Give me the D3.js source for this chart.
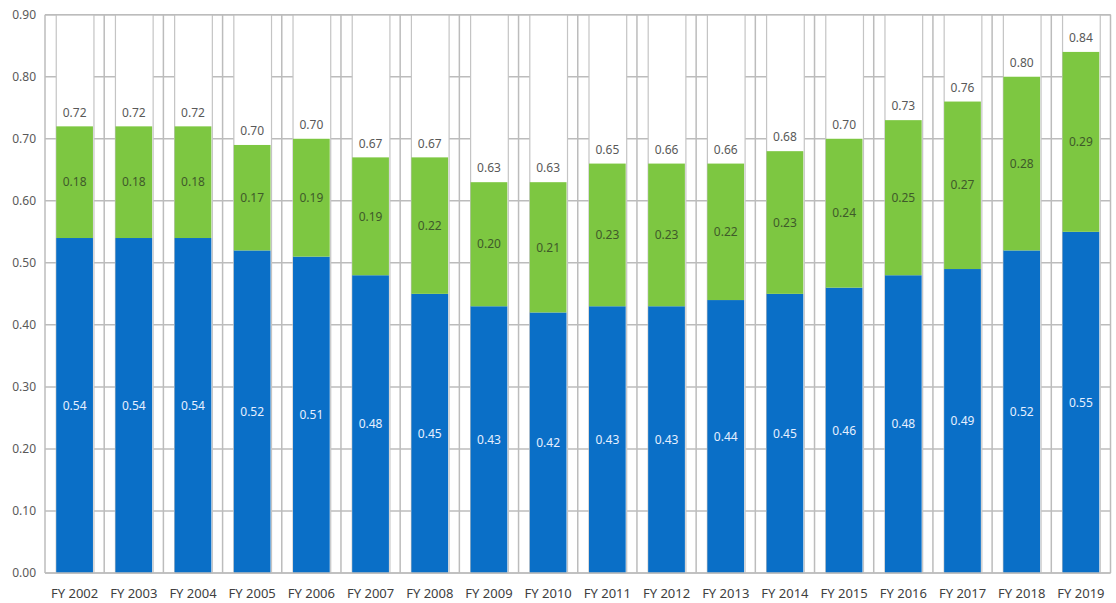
<!DOCTYPE html>
<html>
<head>
<meta charset="utf-8">
<script src="https://cdn.jsdelivr.net/npm/d3@7/dist/d3.min.js"></script>
<style>
  html, body { margin: 0; padding: 0; background: #fff; }
  svg { display: block; font-family: "Noto Sans", "Open Sans", sans-serif; }
</style>
</head>
<body>
<svg id="chart" width="1116" height="603"></svg>
<script>
// Fiscal years on the category axis
const years = ["FY 2002","FY 2003","FY 2004","FY 2005","FY 2006","FY 2007","FY 2008","FY 2009","FY 2010",
               "FY 2011","FY 2012","FY 2013","FY 2014","FY 2015","FY 2016","FY 2017","FY 2018","FY 2019"];
// Lower (blue) segment
const baseValues = [0.54,0.54,0.54,0.52,0.51,0.48,0.45,0.43,0.42,0.43,0.43,0.44,0.45,0.46,0.48,0.49,0.52,0.55];
// Upper (green) segment
const addValues  = [0.18,0.18,0.18,0.17,0.19,0.19,0.22,0.20,0.21,0.23,0.23,0.22,0.23,0.24,0.25,0.27,0.28,0.29];
// Totals printed above each stack
const totals     = [0.72,0.72,0.72,0.70,0.70,0.67,0.67,0.63,0.63,0.65,0.66,0.66,0.68,0.70,0.73,0.76,0.80,0.84];
// Value axis ticks
const yTicks = [0,0.1,0.2,0.3,0.4,0.5,0.6,0.7,0.8,0.9];

const rows = years.map((y, i) => ({ year: y, base: baseValues[i], add: addValues[i], total: totals[i] }));

const svg = d3.select("#chart");
const plotLeft = 45, plotRight = 1110.5, plotTop = 14.7, plotBottom = 573;
const fmt = d3.format(".2f");
const gridColor = "#bcbcbc";

const x = d3.scaleBand().domain(years).range([plotLeft, plotRight]).paddingInner(0.38).paddingOuter(0.19);
const y = d3.scaleLinear().domain([0, 0.9]).range([plotBottom, plotTop]);

// horizontal gridlines
svg.append("g").selectAll("line").data(yTicks).join("line")
  .attr("x1", plotLeft).attr("x2", plotRight)
  .attr("y1", d => y(d)).attr("y2", d => y(d))
  .attr("stroke", gridColor).attr("stroke-width", 1.5);

// vertical gridlines at category boundaries
const step = x.step();
const bounds = d3.range(years.length + 1).map(i => plotLeft + i * step);
svg.append("g").selectAll("line").data(bounds).join("line")
  .attr("x1", d => d).attr("x2", d => d)
  .attr("y1", plotTop).attr("y2", plotBottom)
  .attr("stroke", gridColor).attr("stroke-width", 1.5);

// full-height white columns behind each stack
svg.append("g").selectAll("rect").data(rows).join("rect")
  .attr("x", d => x(d.year)).attr("width", x.bandwidth() + 1)
  .attr("y", y(0.9)).attr("height", y(0) - y(0.9))
  .attr("fill", "#fff").attr("stroke", "#c4c4c4").attr("stroke-width", 1.2);

// blue segment
svg.append("g").selectAll("rect").data(rows).join("rect")
  .attr("x", d => x(d.year)).attr("width", x.bandwidth())
  .attr("y", d => y(d.base)).attr("height", d => y(0) - y(d.base))
  .attr("fill", "#0a6fc7");

// green segment
svg.append("g").selectAll("rect").data(rows).join("rect")
  .attr("x", d => x(d.year)).attr("width", x.bandwidth())
  .attr("y", d => y(d.base + d.add)).attr("height", d => y(d.base) - y(d.base + d.add))
  .attr("fill", "#7dc741");

// redraw the outer top and bottom edges over the columns
svg.append("g").selectAll("line").data([0, 0.9]).join("line")
  .attr("x1", plotLeft).attr("x2", plotRight)
  .attr("y1", d => y(d)).attr("y2", d => y(d))
  .attr("stroke", gridColor).attr("stroke-width", 1.5);

// labels
const cx = d => x(d.year) + x.bandwidth() / 2;
svg.append("g").selectAll("text").data(rows).join("text")
  .attr("x", cx).attr("y", d => (y(0) + y(d.base)) / 2)
  .attr("dy", "0.35em").attr("text-anchor", "middle")
  .attr("font-size", 12).attr("fill", "#e6efff")
  .text(d => fmt(d.base));

svg.append("g").selectAll("text").data(rows).join("text")
  .attr("x", cx).attr("y", d => (y(d.base) + y(d.base + d.add)) / 2)
  .attr("dy", "0.35em").attr("text-anchor", "middle")
  .attr("font-size", 12).attr("fill", "#3f5a2a")
  .text(d => fmt(d.add));

svg.append("g").selectAll("text").data(rows).join("text")
  .attr("x", cx).attr("y", d => y(d.base + d.add) - 14)
  .attr("dy", "0.35em").attr("text-anchor", "middle")
  .attr("font-size", 12).attr("fill", "#595959")
  .text(d => fmt(d.total));

// value axis
const yAxis = svg.append("g").attr("transform", `translate(${plotLeft - 9},0)`)
  .call(d3.axisLeft(y).tickValues(yTicks).tickFormat(fmt).tickSize(0).tickPadding(0));
yAxis.select(".domain").remove();
yAxis.selectAll("text").attr("font-size", 12).attr("fill", "#595959")
  .attr("font-family", "'Noto Sans', sans-serif");

// category axis
const xAxis = svg.append("g").attr("transform", `translate(0,${plotBottom})`)
  .call(d3.axisBottom(x).tickSize(0).tickPadding(16));
xAxis.select(".domain").remove();
xAxis.selectAll("text").attr("font-size", 13).attr("fill", "#404040")
  .attr("font-family", "'Noto Sans', sans-serif");
</script>
</body>
</html>
